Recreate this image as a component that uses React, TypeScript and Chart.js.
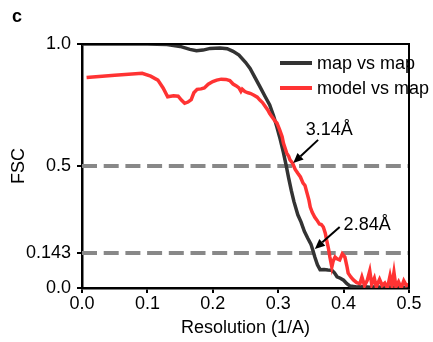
import React, { useEffect, useRef } from "react";
import { Chart, registerables } from "chart.js";

Chart.register(...registerables);

const FONT = "'Liberation Sans', Arial, Helvetica, sans-serif";

// map vs map (black)
const mapX = [0.0, 0.05, 0.1, 0.13, 0.15, 0.165, 0.175, 0.185, 0.196, 0.211, 0.222, 0.231, 0.24, 0.25, 0.257, 0.265, 0.272, 0.28, 0.287, 0.293, 0.298, 0.303, 0.308, 0.312, 0.316, 0.32, 0.324, 0.33, 0.335, 0.34, 0.345, 0.35, 0.353, 0.356, 0.36, 0.364, 0.37, 0.376, 0.382, 0.386, 0.39, 0.395, 0.4, 0.405, 0.41, 0.42, 0.43, 0.44, 0.45, 0.46, 0.47, 0.48, 0.49, 0.5];
const mapY = [1.0, 1.0, 1.0, 0.998, 0.99, 0.978, 0.972, 0.975, 0.982, 0.984, 0.981, 0.97, 0.955, 0.925, 0.9, 0.86, 0.825, 0.785, 0.75, 0.705, 0.66, 0.61, 0.555, 0.505, 0.45, 0.4, 0.355, 0.3, 0.27, 0.232, 0.205, 0.18, 0.155, 0.127, 0.095, 0.075, 0.076, 0.074, 0.073, 0.062, 0.046, 0.04, 0.032, 0.018, 0.008, 0.004, 0.006, 0.003, 0.005, 0.002, 0.004, 0.003, 0.002, 0.003];

// model vs map (red)
const modelX = [0.007, 0.05, 0.092, 0.105, 0.116, 0.124, 0.131, 0.14, 0.147, 0.152, 0.157, 0.162, 0.167, 0.171, 0.176, 0.182, 0.187, 0.193, 0.2, 0.206, 0.213, 0.22, 0.226, 0.231, 0.236, 0.24, 0.243, 0.245, 0.249, 0.254, 0.258, 0.263, 0.268, 0.272, 0.276, 0.28, 0.284, 0.287, 0.291, 0.295, 0.298, 0.302, 0.306, 0.308, 0.31, 0.313, 0.316, 0.318, 0.322, 0.326, 0.33, 0.334, 0.338, 0.341, 0.344, 0.347, 0.349, 0.352, 0.356, 0.359, 0.363, 0.366, 0.369, 0.372, 0.374, 0.377, 0.379, 0.382, 0.384, 0.387, 0.39, 0.394, 0.398, 0.402, 0.405, 0.407, 0.411, 0.415, 0.42, 0.425, 0.428, 0.432, 0.436, 0.44, 0.443, 0.447, 0.45, 0.455, 0.459, 0.463, 0.467, 0.471, 0.474, 0.477, 0.48, 0.484, 0.488, 0.492, 0.496, 0.5];
const modelY = [0.863, 0.872, 0.88, 0.868, 0.852, 0.82, 0.784, 0.788, 0.786, 0.77, 0.757, 0.762, 0.772, 0.8, 0.814, 0.816, 0.82, 0.835, 0.846, 0.852, 0.856, 0.855, 0.85, 0.836, 0.828, 0.82, 0.806, 0.815, 0.805, 0.8, 0.797, 0.79, 0.782, 0.77, 0.76, 0.745, 0.73, 0.715, 0.7, 0.685, 0.676, 0.65, 0.62, 0.594, 0.578, 0.553, 0.54, 0.525, 0.512, 0.486, 0.47, 0.455, 0.43, 0.42, 0.39, 0.36, 0.332, 0.31, 0.29, 0.279, 0.262, 0.26, 0.25, 0.225, 0.197, 0.16, 0.127, 0.086, 0.11, 0.127, 0.12, 0.115, 0.14, 0.127, 0.09, 0.061, 0.045, 0.033, 0.022, 0.018, 0.045, 0.01, 0.03, 0.07, 0.015, 0.04, 0.005, 0.035, 0.01, 0.02, 0.0, 0.05, 0.01, 0.064, 0.005, 0.025, 0.0, 0.03, 0.01, 0.015];

const thresholds = [0.5, 0.143];
const xTicks = [0, 0.1, 0.2, 0.3, 0.4, 0.5];
const yTicks = [0, 0.143, 0.5, 1.0];
const yTickLabels = ["0.0", "0.143", "0.5", "1.0"];

const seriesNames = ["map vs map", "model vs map"];
const seriesColors = ["#333333", "#ff3333"];

// annotations: label, text centre (x,y), arrow start (x,y), arrow tip (x,y) in data units
const annLabels = ["3.14Å", "2.84Å"];
const annText = [[0.378, 0.648], [0.436, 0.258]];
const annFrom = [[0.361, 0.607], [0.394, 0.25]];
const annTo = [[0.323, 0.512], [0.356, 0.16]];

const pts = (xs: number[], ys: number[]) => xs.map((x, i) => ({ x, y: ys[i] }));

export default function App() {
  const ref = useRef<HTMLCanvasElement | null>(null);

  useEffect(() => {
    document.body.style.margin = "0";
    const canvas = ref.current;
    if (!canvas) return;

    const decor = {
      id: "decor",
      afterDatasetsDraw(chart: any) {
        const ctx = chart.ctx;
        const { left, right, top, bottom } = chart.chartArea;
        const xs = chart.scales.x;
        const ys = chart.scales.y;
        ctx.save();
        // frame top/right
        ctx.strokeStyle = "#000";
        ctx.lineWidth = 2;
        ctx.beginPath();
        ctx.moveTo(left, top);
        ctx.lineTo(right, top);
        ctx.lineTo(right, bottom);
        ctx.stroke();

        // legend
        ctx.font = `18px ${FONT}`;
        ctx.textBaseline = "middle";
        ctx.textAlign = "left";
        seriesNames.forEach((name, i) => {
          const y = top + 19 + i * 25;
          ctx.strokeStyle = seriesColors[i];
          ctx.lineWidth = 4;
          ctx.beginPath();
          ctx.moveTo(right - 129, y);
          ctx.lineTo(right - 97, y);
          ctx.stroke();
          ctx.fillStyle = "#000";
          ctx.fillText(name, right - 92, y + 1);
        });

        // annotations
        annLabels.forEach((lab, i) => {
          const tx = xs.getPixelForValue(annText[i][0]);
          const ty = ys.getPixelForValue(annText[i][1]);
          ctx.fillStyle = "#000";
          ctx.textAlign = "center";
          ctx.textBaseline = "middle";
          ctx.font = `18px ${FONT}`;
          ctx.fillText(lab, tx, ty);
          const fx = xs.getPixelForValue(annFrom[i][0]);
          const fy = ys.getPixelForValue(annFrom[i][1]);
          const px = xs.getPixelForValue(annTo[i][0]);
          const py = ys.getPixelForValue(annTo[i][1]);
          const ang = Math.atan2(py - fy, px - fx);
          const hl = 10;
          const hw = 4.5;
          const bx = px - hl * Math.cos(ang);
          const by = py - hl * Math.sin(ang);
          ctx.strokeStyle = "#000";
          ctx.lineWidth = 2;
          ctx.beginPath();
          ctx.moveTo(fx, fy);
          ctx.lineTo(bx, by);
          ctx.stroke();
          ctx.beginPath();
          ctx.moveTo(px, py);
          ctx.lineTo(bx + hw * Math.sin(ang), by - hw * Math.cos(ang));
          ctx.lineTo(bx - hw * Math.sin(ang), by + hw * Math.cos(ang));
          ctx.closePath();
          ctx.fill();
        });

        // panel label
        ctx.font = `bold 18px ${FONT}`;
        ctx.textAlign = "left";
        ctx.textBaseline = "alphabetic";
        ctx.fillText("c", 12, 22);
        ctx.restore();
      },
    };

    const chart = new Chart(canvas, {
      type: "line",
      data: {
        datasets: [
          {
            label: seriesNames[1],
            data: pts(modelX, modelY),
            borderColor: seriesColors[1],
            borderWidth: 3.5,
            pointRadius: 0,
            tension: 0,
            order: 0,
          },
          {
            label: seriesNames[0],
            data: pts(mapX, mapY),
            borderColor: seriesColors[0],
            borderWidth: 3.5,
            pointRadius: 0,
            tension: 0,
            order: 1,
          },
          ...thresholds.map((t) => ({
            label: "t" + t,
            data: [
              { x: 0, y: t },
              { x: 0.5, y: t },
            ],
            borderColor: "#888888",
            borderWidth: 4,
            borderDash: [15, 6.7],
            pointRadius: 0,
            order: 2,
          })),
        ],
      },
      options: {
        animation: false,
        responsive: false,
        devicePixelRatio: 1,
        layout: { padding: { top: 44, right: 24, left: 0, bottom: 0 } },
        plugins: { legend: { display: false }, tooltip: { enabled: false } },
        scales: {
          x: {
            type: "linear",
            min: 0,
            max: 0.5,
            afterFit: (s: any) => {
              s.height = 54;
            },
            afterBuildTicks: (s: any) => {
              s.ticks = xTicks.map((v) => ({ value: v }));
            },
            ticks: {
              color: "#000",
              font: { size: 18, family: FONT },
              padding: 0,
              maxRotation: 0,
              callback: (v: any) => Number(v).toFixed(1),
            },
            grid: { drawOnChartArea: false, drawTicks: true, tickLength: 5, color: "#000", lineWidth: 2 },
            border: { color: "#000", width: 2.5 },
            title: {
              display: true,
              text: "Resolution (1/A)",
              color: "#000",
              font: { size: 18, family: FONT },
              padding: { top: 0, bottom: 3 },
            },
          },
          y: {
            type: "linear",
            min: 0,
            max: 1,
            afterFit: (s: any) => {
              s.width = 82;
            },
            afterBuildTicks: (s: any) => {
              s.ticks = yTicks.map((v) => ({ value: v }));
            },
            ticks: {
              color: "#000",
              font: { size: 18, family: FONT },
              padding: 6,
              callback: (v: any) => {
                const i = yTicks.indexOf(Number(v));
                return i >= 0 ? yTickLabels[i] : "";
              },
            },
            grid: { drawOnChartArea: false, drawTicks: true, tickLength: 5, color: "#000", lineWidth: 2 },
            border: { color: "#000", width: 2.5 },
            title: {
              display: true,
              text: "FSC",
              color: "#000",
              font: { size: 18, family: FONT },
              padding: { top: 8, bottom: 0 },
            },
          },
        },
      },
      plugins: [decor],
    });
    return () => chart.destroy();
  }, []);

  return (
    <div style={{ width: 433, height: 342, background: "#fff" }}>
      <canvas ref={ref} width={433} height={342} />
    </div>
  );
}
